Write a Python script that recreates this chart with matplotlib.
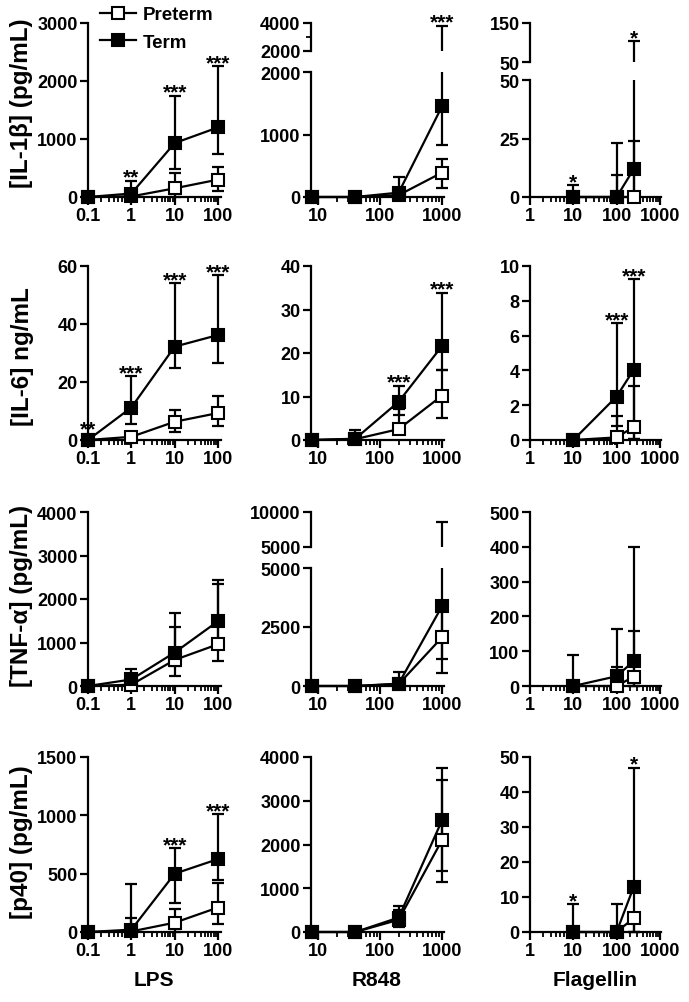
import numpy as np
import matplotlib.pyplot as plt
from matplotlib.ticker import FixedLocator, NullFormatter

plt.rcParams['font.family'] = ['Liberation Sans', 'DejaVu Sans']
plt.rcParams['font.weight'] = 'bold'

W, H = 689, 1003

# doses
lps_x = [0.1, 1, 10, 100]
r848_x = [8, 40, 200, 1000]
flag_x = [10, 100, 250]
lps_ticks = [0.1, 1, 10, 100]
r848_ticks = [10, 100, 1000]
flag_ticks = [1, 10, 100, 1000]

# each series: [mean, bottom of error bar, top of error bar]
il1b_lps_pre = [[0, 10, 150, 300], [0, 0, 0, 110], [0, 50, 420, 520]]
il1b_lps_term = [[0, 60, 930, 1200], [0, 0, 480, 740], [0, 280, 1750, 2260]]
il1b_r848_pre = [[0, 0, 30, 390], [0, 0, 0, 140], [0, 0, 120, 610]]
il1b_r848_term = [[0, 0, 70, 1450], [0, 0, 0, 830], [0, 0, 320, 3800]]
il1b_flag_pre = [[0, 0, 0], [0, 0, 0], [0, 9.6, 24]]
il1b_flag_term = [[0, 0, 12], [0, 0, 0], [5, 23, 103]]

il6_lps_pre = [[0, 1.1, 6.3, 9.3], [0, 0.5, 2.9, 4.9], [0, 1.5, 10.3, 15.3]]
il6_lps_term = [[0, 11.2, 32.2, 36.2], [0, 5.5, 24.8, 26.7], [0, 22.1, 54, 56.8]]
il6_r848_pre = [[0, 0.2, 2.5, 10.2], [0, 0, 1.5, 5.0], [0, 1.2, 7.1, 16.1]]
il6_r848_term = [[0, 0.3, 8.8, 21.6], [0, 0, 5.8, 16.1], [0, 2.3, 12.5, 33.9]]
il6_flag_pre = [[0, 0.15, 0.75], [0, 0, 0.05], [0, 1.4, 3.1]]
il6_flag_term = [[0, 2.5, 4.05], [0, 0.8, 0.06], [0, 6.7, 9.25]]

tnf_lps_pre = [[0, 30, 600, 960], [0, 0, 230, 580], [0, 100, 1350, 2350]]
tnf_lps_term = [[0, 150, 770, 1490], [0, 0, 450, 1000], [0, 400, 1680, 2440]]
tnf_r848_pre = [[0, 0, 80, 2060], [0, 0, 0, 540], [0, 0, 300, 3500]]
tnf_r848_term = [[0, 0, 100, 3380], [0, 0, 0, 1140], [0, 0, 600, 8600]]
tnf_flag_pre = [[0, 0, 27], [0, 0, 0], [0, 55, 158]]
tnf_flag_term = [[0, 28, 72], [0, 0, 0], [90, 163, 398]]

p40_lps_pre = [[0, 5, 80, 210], [0, 0, 0, 70], [0, 120, 195, 420]]
p40_lps_term = [[0, 20, 500, 625], [0, 0, 250, 450], [0, 410, 720, 1010]]
p40_r848_pre = [[0, 0, 280, 2100], [0, 0, 120, 1140], [0, 0, 500, 3470]]
p40_r848_term = [[0, 0, 330, 2550], [0, 0, 200, 1400], [0, 0, 600, 3740]]
p40_flag_pre = [[0, 0, 4], [0, 0, 0], [0, 0, 4]]
p40_flag_term = [[0, 0, 13], [0, 0, 0], [8, 8, 47]]

# significance marks: (dose, text)
il1b_lps_stars = [(1, '**'), (10, '***'), (100, '***')]
il1b_r848_stars = [(1000, '***')]
il1b_flag_stars = [(10, '*'), (250, '*')]
il6_lps_stars = [(0.1, '**'), (1, '***'), (10, '***'), (100, '***')]
il6_r848_stars = [(200, '***'), (1000, '***')]
il6_flag_stars = [(100, '***'), (250, '***')]
p40_lps_stars = [(10, '***'), (100, '***')]
p40_flag_stars = [(10, '*'), (250, '*')]

ylabels = ['[IL-1\u03b2] (pg/mL)', '[IL-6] ng/mL', '[TNF-\u03b1] (pg/mL)', '[p40] (pg/mL)']
xlabels = ['LPS', 'R848', 'Flagellin']

# layout in pixels
col_spans = [(88, 221), (311, 444), (530, 661)]
col_xlim = [(0.1, 117), (7.7, 1077), (1, 1060)]
row_spans = [(24, 198), (267, 441), (513, 687), (758, 933)]
ylabel_y = [103, 357, 596, 842]
xlabel_x = [154, 377, 595]

fig = plt.figure(figsize=(W / 100, H / 100), dpi=100)


def minor_ticks(lo, hi):
    out = []
    for k in range(-2, 4):
        for m in range(2, 10):
            v = m * 10.0 ** k
            if lo <= v <= hi:
                out.append(v)
    return out


def make_axes(xspan, yspan, xlim, ylim, pad_top=10, pad_bottom=10, pad_x=12):
    xl, xr = xspan
    yt, yb = yspan
    kx = np.log10(xlim[1] / xlim[0]) / (xr - xl)
    ky = (ylim[1] - ylim[0]) / (yb - yt)
    ax = fig.add_axes([(xl - pad_x) / W, 1 - (yb + pad_bottom) / H,
                       (xr - xl + 2 * pad_x) / W, (yb - yt + pad_top + pad_bottom) / H])
    ax.set_xscale('log')
    ax.set_xlim(xlim[0] / 10 ** (pad_x * kx), xlim[1] * 10 ** (pad_x * kx))
    ax.set_ylim(ylim[0] - pad_bottom * ky, ylim[1] + pad_top * ky)
    ax.patch.set_visible(False)
    ax.spines['top'].set_visible(False)
    ax.spines['right'].set_visible(False)
    ax.spines['left'].set_position(('data', xlim[0]))
    ax.spines['left'].set_bounds(*ylim)
    ax.spines['bottom'].set_position(('data', ylim[0]))
    ax.spines['bottom'].set_bounds(*xlim)
    for s in ax.spines.values():
        s.set_linewidth(1.6)
    ax.tick_params(which='major', length=6, width=1.6, labelsize=13, pad=1.5)
    ax.tick_params(which='minor', length=3.5, width=1.3)
    return ax


def draw(ax, x, s, filled, markers=True):
    mean, lo, hi = (np.asarray(v, float) for v in s)
    ax.errorbar(x, mean, yerr=[mean - lo, hi - mean], fmt='none', ecolor='black',
                elinewidth=1.6, capsize=4.5, capthick=1.6, zorder=2)
    if markers:
        return ax.plot(x, mean, color='black', lw=1.6, marker='s', ms=8.5, mew=1.5,
                       mfc='black' if filled else 'white', mec='black',
                       zorder=4 if filled else 3)[0]


def stars_on(ax_low, ax_up, split, x, pre, term, stars):
    for sx, txt in stars:
        i = x.index(sx)
        top = max(pre[2][i], term[2][i])
        bar = top > max(pre[0][i], term[0][i])
        ax = ax_up if (ax_up is not None and top > split) else ax_low
        ax.annotate(txt, (sx, top), xytext=(0, -1.5 if bar else 4), textcoords='offset points',
                    ha='center', va='baseline', fontsize=15, annotation_clip=False)


panels = [
    [(lps_x, il1b_lps_pre, il1b_lps_term, il1b_lps_stars, [0, 1000, 2000, 3000]),
     (r848_x, il1b_r848_pre, il1b_r848_term, il1b_r848_stars, [0, 1000, 2000]),
     (flag_x, il1b_flag_pre, il1b_flag_term, il1b_flag_stars, [0, 25, 50])],
    [(lps_x, il6_lps_pre, il6_lps_term, il6_lps_stars, [0, 20, 40, 60]),
     (r848_x, il6_r848_pre, il6_r848_term, il6_r848_stars, [0, 10, 20, 30, 40]),
     (flag_x, il6_flag_pre, il6_flag_term, il6_flag_stars, [0, 2, 4, 6, 8, 10])],
    [(lps_x, tnf_lps_pre, tnf_lps_term, [], [0, 1000, 2000, 3000, 4000]),
     (r848_x, tnf_r848_pre, tnf_r848_term, [], [0, 2500, 5000]),
     (flag_x, tnf_flag_pre, tnf_flag_term, [], [0, 100, 200, 300, 400, 500])],
    [(lps_x, p40_lps_pre, p40_lps_term, p40_lps_stars, [0, 500, 1000, 1500]),
     (r848_x, p40_r848_pre, p40_r848_term, [], [0, 1000, 2000, 3000, 4000]),
     (flag_x, p40_flag_pre, p40_flag_term, p40_flag_stars, [0, 10, 20, 30, 40, 50])],
]

# broken y axes: lower span, upper span, upper ticks, upper minor ticks
broken = {
    (0, 1): dict(low=(73, 198), up=(24, 52), ticks=[2000, 4000], minor=[3000]),
    (0, 2): dict(low=(81, 198), up=(24, 63), ticks=[50, 150], minor=[]),
    (2, 1): dict(low=(569, 687), up=(513, 548), ticks=[5000, 10000], minor=[]),
}

col_ticks = [lps_ticks, r848_ticks, flag_ticks]
handles = None
for r in range(4):
    for c in range(3):
        x, pre, term, stars, yt = panels[r][c]
        xlim = col_xlim[c]
        b = broken.get((r, c))
        yspan = b['low'] if b else row_spans[r]
        ax = make_axes(col_spans[c], yspan, xlim, (yt[0], yt[-1]), pad_top=0 if b else 10)
        ax.xaxis.set_major_locator(FixedLocator(col_ticks[c]))
        ax.xaxis.set_minor_locator(FixedLocator(minor_ticks(*xlim)))
        ax.xaxis.set_minor_formatter(NullFormatter())
        ax.set_xticklabels([f'{t:g}' for t in col_ticks[c]])
        ax.yaxis.set_major_locator(FixedLocator(yt))
        ax.set_yticklabels([f'{t:g}' for t in yt])
        hp = draw(ax, x, pre, False)
        ht = draw(ax, x, term, True)
        if handles is None:
            handles = (ax, hp, ht)
        ax_up = None
        if b:
            ax_up = make_axes(col_spans[c], b['up'], xlim, (b['ticks'][0], b['ticks'][-1]),
                              pad_bottom=0)
            ax_up.spines['bottom'].set_visible(False)
            ax_up.tick_params(axis='x', which='both', bottom=False, labelbottom=False)
            ax_up.yaxis.set_major_locator(FixedLocator(b['ticks']))
            ax_up.yaxis.set_minor_locator(FixedLocator(b['minor']))
            ax_up.set_yticklabels([f'{t:g}' for t in b['ticks']])
            draw(ax_up, x, pre, False, markers=False)
            draw(ax_up, x, term, True, markers=False)
        stars_on(ax, ax_up, yt[-1], x, pre, term, stars)

for r in range(4):
    fig.text(22 / W, 1 - ylabel_y[r] / H, ylabels[r], rotation=90, ha='center', va='center',
             fontsize=17.5)
for c in range(3):
    fig.text(xlabel_x[c] / W, 1 - 981 / H, xlabels[c], ha='center', va='center', fontsize=15)

ax0, hp, ht = handles
ax0.legend([hp, ht], ['Preterm', 'Term'], loc='upper left', bbox_to_anchor=(100 / W, 1 - 7 / H),
           bbox_transform=fig.transFigure, frameon=False, fontsize=13.5, handlelength=1.9,
           handletextpad=0.4, labelspacing=0.55, borderpad=0, borderaxespad=0)

fig.savefig('out.png', dpi=100)
